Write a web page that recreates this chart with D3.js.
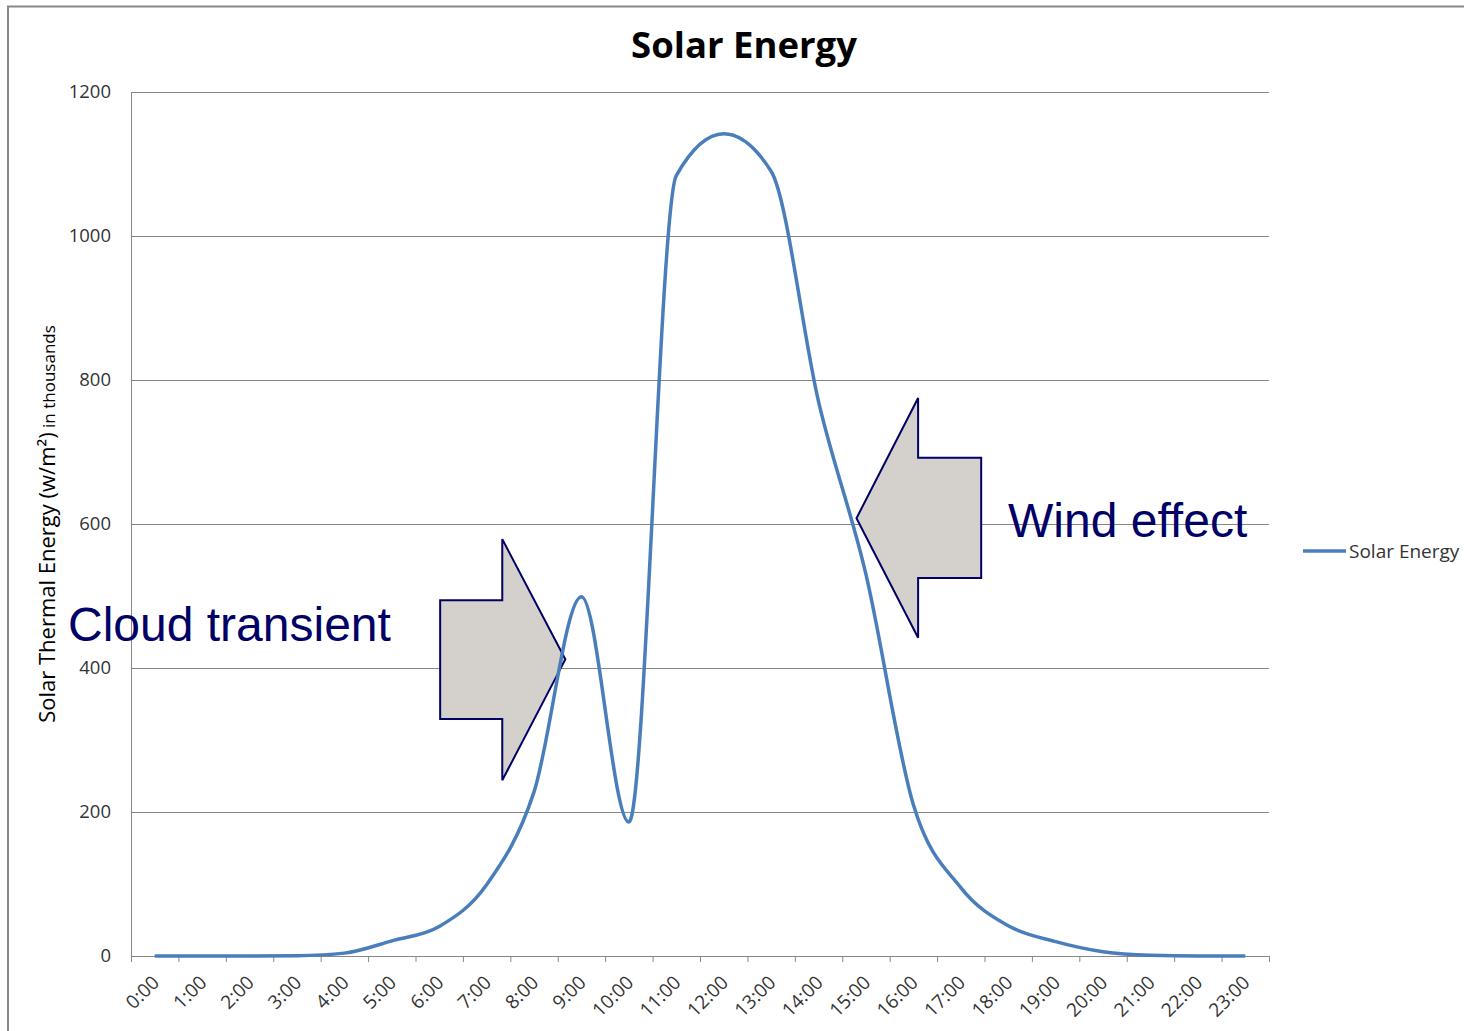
<!DOCTYPE html>
<html>
<head>
<meta charset="utf-8">
<script src="https://cdn.jsdelivr.net/npm/d3@7"></script>
<style>
  body { margin: 0; background: #fff; }
  svg { display: block; }
</style>
</head>
<body>
<svg id="chart" width="1464" height="1031"></svg>
<script>
// hourly categories and readings (thousands of W/m2)
const hours = ["0:00", "1:00", "2:00", "3:00", "4:00", "5:00", "6:00", "7:00", "8:00", "9:00",
  "10:00", "11:00", "12:00", "13:00", "14:00", "15:00", "16:00", "17:00", "18:00", "19:00",
  "20:00", "21:00", "22:00", "23:00"];
const solarEnergy = [0, 0, 0, 0.5, 4, 21, 41, 99, 228, 499,
  186, 1084, 1142, 1090, 770, 530, 210, 95, 42, 20,
  6, 1, 0, 0];
const yTicks = [0, 200, 400, 600, 800, 1000, 1200];

// annotation arrows in data units (hour index, value)
const cloudArrow = { bodyX: 6.02, headX: 7.33, tipX: 8.66, tipY: 412, headTop: 579, headBottom: 244, bodyTop: 494, bodyBottom: 329 };
const windArrow = { bodyX: 17.43, headX: 16.10, tipX: 14.80, tipY: 608, headTop: 775, headBottom: 442, bodyTop: 692, bodyBottom: 525 };

const svg = d3.select("#chart");
const plotLeft = 131, plotRight = 1269, plotTop = 92, plotBottom = 956;
const font = "'Open Sans', sans-serif";

const x = d3.scalePoint().domain(hours).range([plotLeft, plotRight]).padding(0.5);
const xBand = d3.scaleBand().domain(hours).range([plotLeft, plotRight]);
const xi = d3.scaleLinear().domain([0, hours.length - 1]).range([x(hours[0]), x(hours[hours.length - 1])]);
const y = d3.scaleLinear().domain([0, 1200]).range([plotBottom, plotTop]);

// outer chart border
svg.append("rect")
  .attr("x", 8).attr("y", 6.5)
  .attr("width", 1470).attr("height", 1040)
  .attr("fill", "none").attr("stroke", "#888").attr("stroke-width", 2);

// gridlines
svg.append("g").selectAll("line")
  .data(yTicks.filter(d => d > 0))
  .enter().append("line")
  .attr("x1", plotLeft).attr("x2", plotRight)
  .attr("y1", d => y(d) + 0.5).attr("y2", d => y(d) + 0.5)
  .attr("stroke", "#878787").attr("stroke-width", 1);

// y axis
svg.append("line")
  .attr("x1", plotLeft + 0.5).attr("x2", plotLeft + 0.5)
  .attr("y1", plotTop).attr("y2", plotBottom)
  .attr("stroke", "#878787");
svg.append("g").selectAll("text")
  .data(yTicks)
  .enter().append("text")
  .attr("x", 111).attr("y", d => y(d))
  .attr("dy", "0.35em")
  .attr("text-anchor", "end")
  .attr("font-family", font).attr("font-size", 18.5)
  .attr("fill", "#333")
  .text(d => d);

// x axis
svg.append("line")
  .attr("x1", plotLeft).attr("x2", plotRight)
  .attr("y1", plotBottom + 0.5).attr("y2", plotBottom + 0.5)
  .attr("stroke", "#878787");
svg.append("g").selectAll("line")
  .data(hours.map(h => xBand(h)).concat([plotRight]))
  .enter().append("line")
  .attr("x1", d => d + 0.5).attr("x2", d => d + 0.5)
  .attr("y1", plotBottom).attr("y2", plotBottom + 6)
  .attr("stroke", "#878787");
svg.append("g").selectAll("text")
  .data(hours)
  .enter().append("text")
  .attr("transform", d => `translate(${x(d) + 1},${plotBottom + 23}) rotate(-45)`)
  .attr("text-anchor", "end")
  .attr("dy", "0.35em")
  .attr("font-family", font).attr("font-size", 19)
  .attr("fill", "#333")
  .text(d => d);

// y axis title
const yTitle = svg.append("text")
  .attr("transform", `translate(55,${(plotTop + plotBottom) / 2}) rotate(-90)`)
  .attr("text-anchor", "middle")
  .attr("font-family", font)
  .attr("fill", "#000");
yTitle.append("tspan").attr("font-size", 22).text("Solar Thermal Energy (w/m²)");
yTitle.append("tspan").attr("font-size", 17).text(" in thousands");

// title
svg.append("text")
  .attr("x", 744).attr("y", 58)
  .attr("text-anchor", "middle")
  .attr("font-family", font).attr("font-weight", "bold").attr("font-size", 36.5)
  .attr("fill", "#000")
  .text("Solar Energy");

// arrows
function arrowPath(a) {
  const pts = [
    [a.bodyX, a.bodyTop], [a.headX, a.bodyTop], [a.headX, a.headTop], [a.tipX, a.tipY],
    [a.headX, a.headBottom], [a.headX, a.bodyBottom], [a.bodyX, a.bodyBottom]
  ];
  return "M" + pts.map(p => `${xi(p[0])},${y(p[1])}`).join("L") + "Z";
}
[cloudArrow, windArrow].forEach(a => {
  svg.append("path")
    .attr("d", arrowPath(a))
    .attr("fill", "#d4d0cc")
    .attr("stroke", "#000066").attr("stroke-width", 2)
    .attr("stroke-linejoin", "miter");
});

// series line
const line = d3.line()
  .x((d, i) => x(hours[i]))
  .y(d => y(d))
  .curve(d3.curveMonotoneX);
svg.append("path")
  .datum(solarEnergy)
  .attr("d", line)
  .attr("fill", "none")
  .attr("stroke", "#4a7ebb")
  .attr("stroke-width", 3.5)
  .attr("stroke-linejoin", "round");

// annotation labels
svg.append("text")
  .attr("x", 68).attr("y", 641)
  .attr("font-family", "'Liberation Sans', Arial, sans-serif").attr("font-size", 48)
  .attr("fill", "#000066")
  .text("Cloud transient");
svg.append("text")
  .attr("x", 1008).attr("y", 537)
  .attr("font-family", "'Liberation Sans', Arial, sans-serif").attr("font-size", 48)
  .attr("fill", "#000066")
  .text("Wind effect");

// legend
svg.append("line")
  .attr("x1", 1303).attr("x2", 1346)
  .attr("y1", 551).attr("y2", 551)
  .attr("stroke", "#4a7ebb").attr("stroke-width", 3.5);
svg.append("text")
  .attr("x", 1349).attr("y", 551)
  .attr("dy", "0.35em")
  .attr("font-family", font).attr("font-size", 19)
  .attr("fill", "#333")
  .text("Solar Energy");
</script>
</body>
</html>
